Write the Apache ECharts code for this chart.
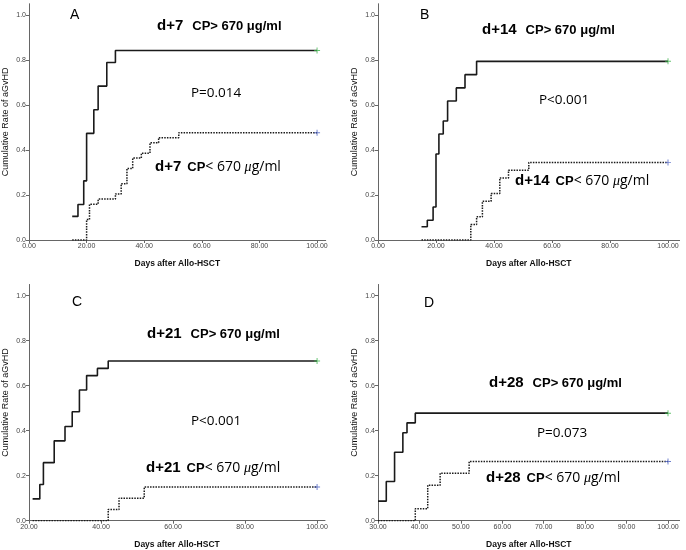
<!DOCTYPE html>
<html>
<head>
<meta charset="utf-8">
<script src="https://cdn.jsdelivr.net/npm/echarts@6/dist/echarts.min.js"></script>
<style>html,body{margin:0;padding:0;background:#fff}#c{width:686px;height:550px}</style>
</head>
<body>
<div id="c"></div>
<script>
// ---- data ----
const panelLetters = ['A', 'B', 'C', 'D'];
const xTicksA = [0, 20, 40, 60, 80, 100];
const xTicksB = [0, 20, 40, 60, 80, 100];
const xTicksC = [20, 40, 60, 80, 100];
const xTicksD = [30, 40, 50, 60, 70, 80, 90, 100];
const yTicks = [0, 0.2, 0.4, 0.6, 0.8, 1.0];

const highDaysA = [15, 17, 19, 20, 22.5, 24, 27, 30, 100];
const highValsA = [0.105, 0.158, 0.263, 0.474, 0.579, 0.684, 0.789, 0.842, 0.842];
const lowDaysA = [15, 20, 21, 24, 30, 32, 34, 36, 39, 42, 45, 52, 100];
const lowValsA = [0, 0.091, 0.159, 0.182, 0.205, 0.25, 0.318, 0.364, 0.386, 0.432, 0.455, 0.477, 0.477];

const highDaysB = [15, 17, 19, 20, 21, 22.5, 24, 27, 30, 34, 100];
const highValsB = [0.059, 0.088, 0.147, 0.382, 0.471, 0.529, 0.618, 0.676, 0.735, 0.794, 0.794];
const lowDaysB = [15, 32, 34, 36, 39, 42, 45, 52, 100];
const lowValsB = [0, 0.069, 0.103, 0.172, 0.207, 0.276, 0.310, 0.345, 0.345];

const highDaysC = [21, 23, 24, 27, 30, 32, 34, 36, 39, 42, 100];
const highValsC = [0.097, 0.161, 0.258, 0.355, 0.419, 0.484, 0.581, 0.645, 0.677, 0.710, 0.710];
const lowDaysC = [21, 42, 45, 52, 100];
const lowValsC = [0, 0.05, 0.10, 0.15, 0.15];

const highDaysD = [30, 32, 34, 36, 37, 39, 100];
const highValsD = [0.087, 0.174, 0.304, 0.391, 0.435, 0.478, 0.478];
const lowDaysD = [30, 39, 42, 45, 52, 100];
const lowValsD = [0, 0.053, 0.158, 0.211, 0.263, 0.263];

const dayLabels = ['d+7', 'd+14', 'd+21', 'd+28'];
const pLabels = ['P=0.014', 'P<0.001', 'P<0.001', 'P=0.073'];

// ---- layout ----
const panels = [
  {xMin: 0, xMax: 103, ticks: xTicksA, hd: highDaysA, hv: highValsA, ld: lowDaysA, lv: lowValsA,
   grid: {left: 27, top: 3.75, width: 298.7, height: 236.25},
   letter: [70, 15], hi: [157, 26], p: [191, 93], lo: [155, 167]},
  {xMin: 0, xMax: 104, ticks: xTicksB, hd: highDaysB, hv: highValsB, ld: lowDaysB, lv: lowValsB,
   grid: {left: 378, top: 3.75, width: 301.6, height: 236.25},
   letter: [420, 15], hi: [482, 30], p: [539, 100], lo: [515, 181]},
  {xMin: 20, xMax: 102.2, ticks: xTicksC, hd: highDaysC, hv: highValsC, ld: lowDaysC, lv: lowValsC,
   grid: {left: 27, top: 284.45, width: 298, height: 236.25},
   letter: [72, 302], hi: [147, 334], p: [191, 421], lo: [146, 468]},
  {xMin: 30, xMax: 102.8, ticks: xTicksD, hd: highDaysD, hv: highValsD, ld: lowDaysD, lv: lowValsD,
   grid: {left: 378, top: 284.45, width: 301.6, height: 236.25},
   letter: [424, 303], hi: [489, 383], p: [537, 433], lo: [486, 478]}
];

const plus = 'path://M4.2,0h1.6v10h-1.6zM0,4.2h10v1.6h-10z';
const grids = [], xAxes = [], yAxes = [], series = [], graphics = [];
panels.forEach((pn, i) => {
  grids.push(pn.grid);
  xAxes.push({
    type: 'value', gridIndex: i, min: pn.xMin, max: pn.xMax,
    name: 'Days after Allo-HSCT', nameLocation: 'middle', nameGap: 19,
    nameTextStyle: {fontSize: 8.5, fontWeight: 'bold', color: '#111', fontFamily: 'Liberation Sans'},
    axisLine: {lineStyle: {color: '#666', width: 1}},
    axisTick: {show: true, length: 3, customValues: pn.ticks, lineStyle: {color: '#666'}},
    axisLabel: {customValues: pn.ticks, formatter: v => v.toFixed(2), fontSize: 7, color: '#444', margin: 3, fontFamily: 'Liberation Sans'},
    splitLine: {show: false}
  });
  yAxes.push({
    type: 'value', gridIndex: i, min: 0, max: 1.05,
    name: 'Cumulative Rate of aGvHD', nameLocation: 'middle', nameGap: 19, nameRotate: 90,
    nameTextStyle: {fontSize: 9, color: '#111', fontFamily: 'Liberation Sans'},
    axisLine: {show: true, lineStyle: {color: '#666', width: 1}},
    axisTick: {show: true, length: 3, customValues: yTicks, lineStyle: {color: '#666'}},
    axisLabel: {customValues: yTicks, formatter: v => v.toFixed(1), fontSize: 7, color: '#444', margin: 3, fontFamily: 'Liberation Sans'},
    splitLine: {show: false}
  });
  series.push({
    type: 'line', xAxisIndex: i, yAxisIndex: i, step: 'end', showSymbol: false,
    data: pn.hd.map((d, k) => [d, pn.hv[k]]),
    lineStyle: {color: '#1a1a1a', width: 1.6}, animation: false, z: 3
  });
  series.push({
    type: 'line', xAxisIndex: i, yAxisIndex: i, step: 'end', showSymbol: false,
    data: pn.ld.map((d, k) => [d, pn.lv[k]]),
    lineStyle: {color: '#1a1a1a', width: 1.5, type: [1.5, 1.2]}, animation: false, z: 3
  });
  series.push({
    type: 'scatter', xAxisIndex: i, yAxisIndex: i, symbol: plus, symbolSize: 6,
    data: [[pn.hd[pn.hd.length - 1], pn.hv[pn.hv.length - 1]]],
    itemStyle: {color: '#3cb44b'}, animation: false, z: 4
  });
  series.push({
    type: 'scatter', xAxisIndex: i, yAxisIndex: i, symbol: plus, symbolSize: 6,
    data: [[pn.ld[pn.ld.length - 1], pn.lv[pn.lv.length - 1]]],
    itemStyle: {color: '#4a5fc1'}, animation: false, z: 4
  });
  graphics.push({type: 'text', x: pn.letter[0], y: pn.letter[1],
    style: {text: panelLetters[i], fontSize: 14, fontFamily: 'Liberation Sans', fill: '#000', verticalAlign: 'middle'}});
  graphics.push({type: 'text', x: pn.hi[0], y: pn.hi[1],
    style: {text: '{a|' + dayLabels[i] + '}{b|CP> 670 μg/ml}', verticalAlign: 'middle', fill: '#000',
      rich: {a: {fontSize: 15, fontWeight: 'bold', fontFamily: 'Liberation Sans', padding: [0, 9, 0, 0]},
             b: {fontSize: 13, fontWeight: 'bold', fontFamily: 'Liberation Sans'}}}});
  graphics.push({type: 'text', x: pn.p[0], y: pn.p[1],
    style: {text: pLabels[i], fontSize: 13.5, fontFamily: 'Open Sans', fill: '#000', verticalAlign: 'middle'}});
  graphics.push({type: 'text', x: pn.lo[0], y: pn.lo[1],
    style: {text: '{a|' + dayLabels[i] + '}{b|CP}{c|< 670 }{d|μ}{c|g/ml}', verticalAlign: 'middle', fill: '#000',
      rich: {a: {fontSize: 15, fontWeight: 'bold', fontFamily: 'Liberation Sans', padding: [0, 6, 0, 0]},
             b: {fontSize: 13, fontWeight: 'bold', fontFamily: 'Liberation Sans'},
             c: {fontSize: 14, fontFamily: 'Open Sans'},
             d: {fontSize: 14, fontStyle: 'italic', fontFamily: 'Liberation Serif'}}}});
});

const chart = echarts.init(document.getElementById('c'), null, {renderer: 'canvas'});
chart.setOption({
  animation: false,
  backgroundColor: '#fff',
  grid: grids, xAxis: xAxes, yAxis: yAxes, series: series, graphic: graphics
});
</script>
</body>
</html>
